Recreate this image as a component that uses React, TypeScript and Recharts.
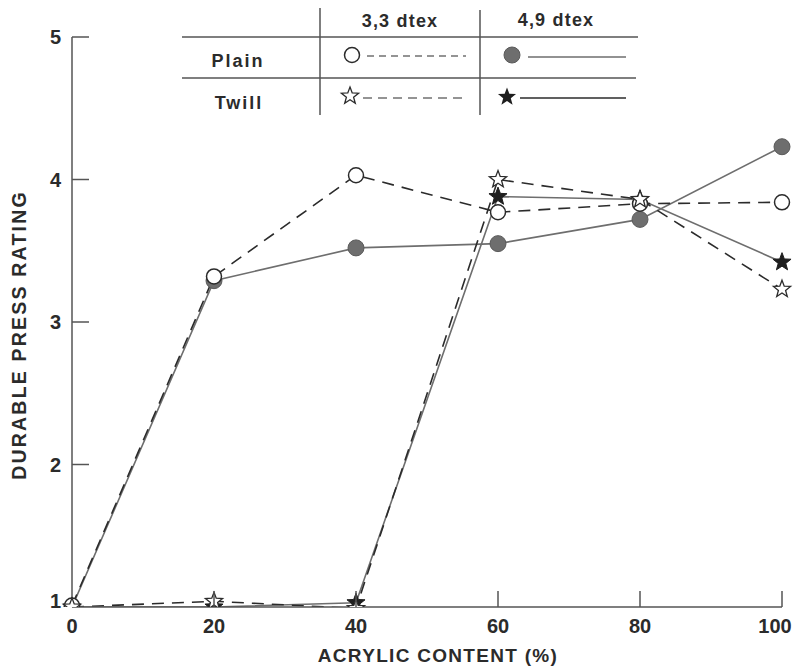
import React from 'react'
import { LineChart, Line, XAxis, YAxis, Label } from 'recharts'

const acrylic = [0, 20, 40, 60, 80, 100]
const plain33 = [1.01, 3.32, 4.03, 3.77, 3.83, 3.84]
const plain49 = [1.0, 3.29, 3.52, 3.55, 3.72, 4.23]
const twill33 = [1.0, 1.04, 0.99, 4.0, 3.86, 3.23]
const twill49 = [1.0, 1.0, 1.03, 3.88, 3.86, 3.42]
const xTicks = [0, 20, 40, 60, 80, 100]
const yTicks = [1, 2, 3, 4, 5]

const data = acrylic.map((x, i) => ({
  x,
  plain33: plain33[i],
  plain49: plain49[i],
  twill33: twill33[i],
  twill49: twill49[i],
}))

const FONT = '"Liberation Sans", Arial, sans-serif'
const INK = '#2b2b2b'
const GREY = '#6e6e6e'
const DASH = '12 8'

const starPoints = (cx: number, cy: number, R: number) => {
  const r = R * 0.42
  const pts: string[] = []
  for (let i = 0; i < 10; i++) {
    const a = -Math.PI / 2 + (i * Math.PI) / 5
    const rad = i % 2 === 0 ? R : r
    pts.push(`${cx + rad * Math.cos(a)},${cy + rad * Math.sin(a)}`)
  }
  return pts.join(' ')
}

const openCircle = (p: any) => (
  <circle key={`oc-${p.index}`} cx={p.cx} cy={p.cy} r={7.5} fill="#fff" stroke={INK} strokeWidth={1.5} />
)
const fullCircle = (p: any) => (
  <circle key={`fc-${p.index}`} cx={p.cx} cy={p.cy} r={8} fill={GREY} stroke="#5a5a5a" strokeWidth={1} />
)
const openStar = (p: any) => (
  <polygon key={`os-${p.index}`} points={starPoints(p.cx, p.cy, 9)} fill="#fff" stroke={INK} strokeWidth={1.3} />
)
const fullStar = (p: any) => (
  <polygon key={`fs-${p.index}`} points={starPoints(p.cx, p.cy, 9.5)} fill="#1e1e1e" stroke="#1e1e1e" strokeWidth={1} />
)

const YTick = ({ x, y, payload }: any) => (
  <g>
    {payload.value !== 1 && <line x1={x} x2={x + 17} y1={y} y2={y} stroke="#555" strokeWidth={1.5} />}
    <text x={x - 11} y={payload.value === 1 ? y - 6 : y} dy={7} textAnchor="end" fontFamily={FONT} fontWeight="bold" fontSize={20} fill={INK}>
      {payload.value}
    </text>
  </g>
)

const XTick = ({ x, y, payload }: any) => (
  <g>
    {payload.value !== 0 && <line x1={x} x2={x} y1={y} y2={y - 16} stroke="#555" strokeWidth={1.5} />}
    <text x={payload.value === 100 ? x - 7 : x} y={y} dy={26} textAnchor="middle" fontFamily={FONT} fontWeight="bold" fontSize={20} fill={INK}>
      {payload.value}
    </text>
  </g>
)

// axis titles: the scan uses a wide grotesque, so letter-spacing stretches Liberation Sans
const XTitle = ({ viewBox }: any) => (
  <text
    x={viewBox.x + viewBox.width / 2 + 11}
    y={viewBox.y + viewBox.height - 9}
    textAnchor="middle"
    fontFamily={FONT}
    fontWeight="bold"
    fontSize={19}
    letterSpacing={1.3}
    fill={INK}
  >
    ACRYLIC CONTENT (%)
  </text>
)

const YTitle = ({ viewBox }: any) => {
  const cx = viewBox.x + 26
  const cy = viewBox.y + viewBox.height / 2 + 13
  return (
    <text
      x={cx}
      y={cy}
      transform={`rotate(-90 ${cx} ${cy})`}
      textAnchor="middle"
      fontFamily={FONT}
      fontWeight="bold"
      fontSize={19.5}
      letterSpacing={2.2}
      fill={INK}
    >
      DURABLE PRESS RATING
    </text>
  )
}

const LegendTable = () => (
  <svg width={799} height={130} style={{ position: 'absolute', left: 0, top: 0, pointerEvents: 'none' }}>
    <g fontFamily={FONT} fontWeight="bold" fontSize={18} fill={INK}>
      <text x={400} y={27} textAnchor="middle" letterSpacing={1.2}>3,3 dtex</text>
      <text x={556} y={26} textAnchor="middle" letterSpacing={1.2}>4,9 dtex</text>
      <text x={238} y={67} textAnchor="middle" letterSpacing={2}>Plain</text>
      <text x={239} y={109} textAnchor="middle" letterSpacing={2}>Twill</text>
    </g>
    <line x1={182} x2={638} y1={37} y2={37} stroke="#555" strokeWidth={1.5} />
    <line x1={182} x2={636} y1={78} y2={78} stroke="#555" strokeWidth={1.5} />
    <line x1={320} x2={320} y1={8} y2={115} stroke="#555" strokeWidth={1.5} />
    <line x1={480} x2={480} y1={10} y2={115} stroke="#555" strokeWidth={1.5} />

    <line x1={367} x2={466} y1={56} y2={56} stroke={INK} strokeWidth={1.2} strokeDasharray="7 5" />
    <circle cx={352} cy={55} r={7.5} fill="#fff" stroke={INK} strokeWidth={1.5} />
    <line x1={528} x2={626} y1={57} y2={57} stroke={GREY} strokeWidth={1.5} />
    <circle cx={512} cy={55} r={8} fill={GREY} stroke="#5a5a5a" strokeWidth={1} />

    <line x1={363} x2={466} y1={98} y2={98} stroke={INK} strokeWidth={1.2} strokeDasharray="9 6" />
    <polygon points={starPoints(350, 96, 9)} fill="#fff" stroke={INK} strokeWidth={1.3} />
    <line x1={520} x2={626} y1={98} y2={98} stroke={INK} strokeWidth={1.5} />
    <polygon points={starPoints(507, 97, 9.5)} fill="#1e1e1e" />
  </svg>
)

export default function App() {
  return (
    <div style={{ position: 'absolute', left: 0, top: 0, width: 799, height: 671, background: '#fff' }}>
      <LineChart width={799} height={671} data={data} margin={{ top: 37, right: 17, left: 0, bottom: 0 }}>
        <XAxis
          dataKey="x"
          type="number"
          domain={[0, 100]}
          ticks={xTicks}
          height={64}
          tickSize={0}
          tickMargin={0}
          tickLine={false}
          tick={<XTick />}
          axisLine={{ stroke: '#555', strokeWidth: 1.5 }}
        >
          <Label content={<XTitle />} />
        </XAxis>
        <YAxis
          type="number"
          domain={[1, 5]}
          allowDataOverflow
          ticks={yTicks}
          width={72}
          tickSize={0}
          tickMargin={0}
          tickLine={false}
          tick={<YTick />}
          axisLine={{ stroke: '#555', strokeWidth: 1.5 }}
        >
          <Label content={<YTitle />} />
        </YAxis>
        <Line dataKey="plain49" stroke={GREY} strokeWidth={1.6} dot={fullCircle} isAnimationActive={false} />
        <Line dataKey="twill49" stroke={GREY} strokeWidth={1.6} dot={fullStar} isAnimationActive={false} />
        <Line dataKey="plain33" stroke={INK} strokeWidth={1.6} strokeDasharray={DASH} dot={openCircle} isAnimationActive={false} />
        <Line dataKey="twill33" stroke={INK} strokeWidth={1.6} strokeDasharray={DASH} dot={openStar} isAnimationActive={false} />
      </LineChart>
      <LegendTable />
    </div>
  )
}
